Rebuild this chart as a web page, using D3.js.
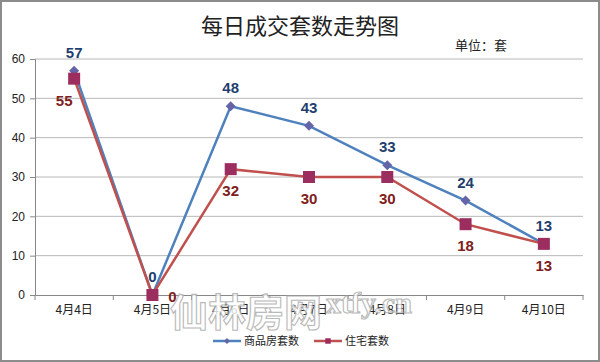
<!DOCTYPE html>
<html>
<head>
<meta charset="utf-8">
<script src="https://cdn.jsdelivr.net/npm/d3@7"></script>
<style>
  body { margin: 0; background: #fff; }
  svg { display: block; }
</style>
</head>
<body>
<div id="chart"></div>
<script>
const days = ['4月4日', '4月5日', '4月6日', '4月7日', '4月8日', '4月9日', '4月10日'];
const shangpin = [57, 0, 48, 43, 33, 24, 13];   // 商品房套数
const zhuzhai = [55, 0, 32, 30, 30, 18, 13];    // 住宅套数
const yTicks = [0, 10, 20, 30, 40, 50, 60];

const W = 600, H = 362;
const svg = d3.select('#chart').append('svg')
  .attr('width', W).attr('height', H);

// outer frame
svg.append('rect')
  .attr('x', 1).attr('y', 1).attr('width', W - 2).attr('height', H - 2)
  .attr('fill', '#fff').attr('stroke', '#8c8c8c').attr('stroke-width', 2);

const plotL = 35, plotR = 583, plotT = 59, plotB = 295;

const x = d3.scaleBand().domain(days).range([plotL, plotR]);
const y = d3.scaleLinear().domain([0, 60]).range([plotB, plotT]);

// gridlines
svg.append('g').selectAll('line').data(yTicks.filter(d => d > 0)).enter().append('line')
  .attr('x1', plotL).attr('x2', plotR)
  .attr('y1', d => y(d)).attr('y2', d => y(d))
  .attr('stroke', '#b8b8b8').attr('stroke-width', 1);

// y axis
const yAxis = svg.append('g')
  .attr('transform', 'translate(' + plotL + ',0)')
  .call(d3.axisLeft(y).tickValues(yTicks).tickSize(5).tickPadding(5));
yAxis.selectAll('text')
  .attr('font-family', '"Liberation Sans", Arial, sans-serif')
  .attr('font-size', 12).attr('fill', '#222');
yAxis.selectAll('line').attr('stroke', '#888');
yAxis.select('.domain').attr('stroke', '#888');

// x axis
const xAxis = svg.append('g')
  .attr('transform', 'translate(0,' + plotB + ')')
  .call(d3.axisBottom(x).tickSize(0).tickPadding(10));
xAxis.selectAll('text')
  .attr('font-family', '"Noto Sans CJK SC", sans-serif')
  .attr('font-size', 12).attr('fill', '#222');
xAxis.select('.domain').attr('stroke', '#888');
// tick marks between categories
svg.append('g').selectAll('line').data(d3.range(days.length + 1)).enter().append('line')
  .attr('x1', i => plotL + i * x.step()).attr('x2', i => plotL + i * x.step())
  .attr('y1', plotB).attr('y2', plotB + 5)
  .attr('stroke', '#888');

const cx = d => x(d) + x.bandwidth() / 2;
const line = vals => d3.line()
  .x((d, i) => cx(days[i]))
  .y(d => y(d))(vals);

// series lines
svg.append('path').attr('d', line(shangpin))
  .attr('fill', 'none').attr('stroke', '#4f81bd').attr('stroke-width', 2.5);
svg.append('path').attr('d', line(zhuzhai))
  .attr('fill', 'none').attr('stroke', '#c0504d').attr('stroke-width', 2.5);

// markers: diamond = square turned 45 degrees
const diamond = d3.symbol().type(d3.symbolSquare).size(50);
svg.append('g').selectAll('path').data(shangpin).enter().append('path')
  .attr('d', diamond)
  .attr('transform', (d, i) => 'translate(' + cx(days[i]) + ',' + y(d) + ') rotate(45)')
  .attr('fill', '#6464a8');
svg.append('g').selectAll('rect').data(zhuzhai).enter().append('rect')
  .attr('x', (d, i) => cx(days[i]) - 6).attr('y', d => y(d) - 6)
  .attr('width', 12).attr('height', 12)
  .attr('fill', '#9b2d5f');

// data labels
svg.append('g').selectAll('text').data(shangpin).enter().append('text')
  .attr('x', (d, i) => cx(days[i]))
  .attr('y', d => y(d) - 13)
  .attr('text-anchor', 'middle')
  .attr('font-family', '"Liberation Sans", Arial, sans-serif')
  .attr('font-weight', 'bold').attr('font-size', 15)
  .attr('fill', '#1f3f6e')
  .text(d => d);

// a couple of labels sit beside the point instead of under it
const zzShift = {0: [-10, 0], 1: [20, -20]};
svg.append('g').selectAll('text').data(zhuzhai).enter().append('text')
  .attr('x', (d, i) => cx(days[i]) + (zzShift[i] ? zzShift[i][0] : 0))
  .attr('y', (d, i) => y(d) + 27 + (zzShift[i] ? zzShift[i][1] : 0))
  .attr('text-anchor', 'middle')
  .attr('font-family', '"Liberation Sans", Arial, sans-serif')
  .attr('font-weight', 'bold').attr('font-size', 15)
  .attr('fill', '#7f2020')
  .text(d => d);

// watermark on top
const wm = svg.append('g').attr('opacity', 0.8);
wm.append('text')
  .attr('x', 170).attr('y', 326)
  .attr('font-family', '"Noto Sans CJK SC", sans-serif')
  .attr('font-size', 38).attr('font-weight', 'bold')
  .attr('fill', '#fff').attr('stroke', '#a8a8a8').attr('stroke-width', 1.1)
  .text('仙林房网');
wm.append('text')
  .attr('x', 326).attr('y', 313)
  .attr('font-family', '"Liberation Serif", serif')
  .attr('font-size', 30).attr('font-weight', 'bold')
  .attr('fill', '#fff').attr('stroke', '#a8a8a8').attr('stroke-width', 1.1)
  .text('xtfy.cn');

// title
svg.append('text')
  .attr('x', 300).attr('y', 34)
  .attr('text-anchor', 'middle')
  .attr('font-family', '"Noto Sans CJK SC", sans-serif')
  .attr('font-size', 22).attr('fill', '#222')
  .text('每日成交套数走势图');

svg.append('text')
  .attr('x', 455).attr('y', 50)
  .attr('font-family', '"Noto Sans CJK SC", sans-serif')
  .attr('font-size', 13).attr('fill', '#222')
  .text('单位：套');

// legend
const legend = [
  {name: '商品房套数', color: '#4f81bd', mark: '#6464a8', shape: 'diamond', x: 213},
  {name: '住宅套数', color: '#c0504d', mark: '#9b2d5f', shape: 'square', x: 314}
];
const lg = svg.append('g').selectAll('g').data(legend).enter().append('g')
  .attr('transform', d => 'translate(' + d.x + ',341)');
lg.append('line').attr('x1', 0).attr('x2', 28)
  .attr('stroke', d => d.color).attr('stroke-width', 2.5);
lg.append('path')
  .attr('d', d => d3.symbol().type(d3.symbolSquare).size(d.shape === 'diamond' ? 18 : 30)())
  .attr('transform', d => 'translate(14,0)' + (d.shape === 'diamond' ? ' rotate(45)' : ''))
  .attr('fill', d => d.mark);
lg.append('text')
  .attr('x', 31).attr('y', 4)
  .attr('font-family', '"Noto Sans CJK SC", sans-serif')
  .attr('font-size', 11).attr('fill', '#222')
  .text(d => d.name);
</script>
</body>
</html>
